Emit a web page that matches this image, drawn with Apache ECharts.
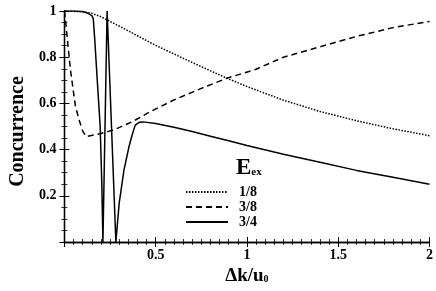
<!DOCTYPE html>
<html><head><meta charset="utf-8">
<script src="https://cdn.jsdelivr.net/npm/echarts@6/dist/echarts.min.js"></script>
<style>html,body{margin:0;padding:0;background:#fff}#c{width:436px;height:291px}</style>
</head><body><div id="c"></div>
<script>
// ---- data ----
const seriesNames = ['1/8', '3/8', '3/4'];
const xTickLabels = {0.5: '0.5', 1: '1', 1.5: '1.5', 2: '2'};
const yTickLabels = {0.2: '0.2', 0.4: '0.4', 0.6: '0.6', 0.8: '0.8', 1: '1'};

const xDotted = [0, 0.1, 0.15, 0.2, 0.25, 0.3, 0.4, 0.5, 0.6, 0.7, 0.8, 0.9, 1.0, 1.2, 1.4, 1.6, 1.8, 2.0];
const yDotted = [1, 0.997, 0.99, 0.975, 0.955, 0.935, 0.893, 0.851, 0.814, 0.777, 0.741, 0.706, 0.673, 0.614, 0.565, 0.525, 0.49, 0.46];

const xDashed = [0, 0.005, 0.016, 0.034, 0.06, 0.08, 0.1, 0.12, 0.2, 0.27, 0.37, 0.47, 0.6, 0.75, 0.89, 1.05, 1.2, 1.4, 1.6, 1.8, 2.0];
const yDashed = [1, 0.97, 0.88, 0.74, 0.59, 0.53, 0.48, 0.456, 0.47, 0.485, 0.52, 0.564, 0.615, 0.665, 0.709, 0.748, 0.8, 0.845, 0.89, 0.928, 0.955];

const xSolid = [0, 0.05, 0.1, 0.13, 0.15, 0.158, 0.166, 0.18, 0.196, 0.205, 0.211, 0.234, 0.282, 0.3, 0.326, 0.353, 0.371, 0.388, 0.41, 0.432, 0.5, 0.6, 0.7, 0.8, 0.9, 1.0, 1.2, 1.4, 1.6, 1.8, 2.0];
const ySolid = [1, 1, 0.998, 0.99, 0.98, 0.968, 0.88, 0.7, 0.5, 0.25, 0, 1, 0, 0.167, 0.31, 0.41, 0.463, 0.506, 0.518, 0.52, 0.513, 0.497, 0.478, 0.458, 0.438, 0.418, 0.38, 0.345, 0.31, 0.28, 0.25];

// ---- chart ----
const FONT = '"Liberation Serif", "Times New Roman", serif';
const zip = (xs, ys) => xs.map((x, i) => [x, ys[i]]);
const chart = echarts.init(document.getElementById('c'), null, {renderer: 'canvas'});

const axisCommon = {
  axisLine: {show: true, lineStyle: {color: '#000', width: 1.3}},
  axisTick: {show: true, inside: true, length: 5, lineStyle: {color: '#000', width: 1}},
  minorTick: {show: true, length: 3, lineStyle: {color: '#000', width: 0.8}},
  splitLine: {show: false},
  minorSplitLine: {show: false}
};

chart.setOption({
  animation: false,
  backgroundColor: '#fff',
  grid: {left: 58, right: 3, top: 11, bottom: 49, containLabel: false},
  title: {
    text: '{a|E}{b|ex}', left: 231, top: 152,
    textStyle: {rich: {
      a: {fontFamily: FONT, fontWeight: 'bold', fontSize: 23, color: '#000'},
      b: {fontFamily: FONT, fontWeight: 'bold', fontSize: 11, color: '#000', padding: [7, 0, 0, 0]}
    }}
  },
  legend: {
    orient: 'vertical', left: 180, top: 180,
    itemWidth: 42, itemHeight: 10, itemGap: 1,
    data: seriesNames,
    itemStyle: {opacity: 0},
    textStyle: {fontFamily: FONT, fontWeight: 'bold', fontSize: 14, color: '#000', padding: [0, 0, 0, 6]}
  },
  xAxis: [
    Object.assign({}, axisCommon, {
      type: 'value', min: 0, max: 2, interval: 0.5, position: 'bottom',
      minorTick: Object.assign({}, axisCommon.minorTick, {splitNumber: 10}),
      axisLabel: {
        color: '#000', fontFamily: FONT, fontWeight: 'bold', fontSize: 14, margin: 6,
        formatter: v => xTickLabels[v] || ''
      },
      name: '{a|Δk/u}{b|0}', nameLocation: 'middle', nameGap: 22,
      nameTextStyle: {rich: {
        a: {fontFamily: FONT, fontWeight: 'bold', fontSize: 19, color: '#000'},
        b: {fontFamily: FONT, fontWeight: 'bold', fontSize: 10, color: '#000', padding: [7, 0, 0, 0]}
      }}
    }),
    Object.assign({}, axisCommon, {
      type: 'value', min: 0, max: 2, interval: 0.5, position: 'top',
      minorTick: Object.assign({}, axisCommon.minorTick, {splitNumber: 10}),
      axisLabel: {show: false}
    })
  ],
  yAxis: [
    Object.assign({}, axisCommon, {
      type: 'value', min: 0, max: 1, interval: 0.2, position: 'left',
      minorTick: Object.assign({}, axisCommon.minorTick, {splitNumber: 4}),
      axisLabel: {
        color: '#000', fontFamily: FONT, fontWeight: 'bold', fontSize: 14, margin: 8,
        formatter: v => yTickLabels[Math.round(v * 10) / 10] || ''
      },
      name: 'Concurrence', nameLocation: 'middle', nameGap: 33, nameRotate: 90,
      nameTextStyle: {fontFamily: FONT, fontWeight: 'bold', fontSize: 20, color: '#000', padding: [0, 10, 0, 0]}
    }),
    Object.assign({}, axisCommon, {
      type: 'value', min: 0, max: 1, interval: 0.2, position: 'right',
      minorTick: Object.assign({}, axisCommon.minorTick, {splitNumber: 4}),
      axisLabel: {show: false}
    })
  ],
  series: [
    {name: seriesNames[0], type: 'line', data: zip(xDotted, yDotted), symbol: 'none', smooth: false,
     lineStyle: {color: '#000', width: 1.5, type: [1.5, 1.5]}, itemStyle: {color: '#000'}},
    {name: seriesNames[1], type: 'line', data: zip(xDashed, yDashed), symbol: 'none', smooth: false,
     lineStyle: {color: '#000', width: 1.5, type: [6, 4]}, itemStyle: {color: '#000'}},
    {name: seriesNames[2], type: 'line', data: zip(xSolid, ySolid), symbol: 'none', smooth: false,
     lineStyle: {color: '#000', width: 1.5, type: 'solid'}, itemStyle: {color: '#000'}}
  ]
});
</script>
</body></html>
